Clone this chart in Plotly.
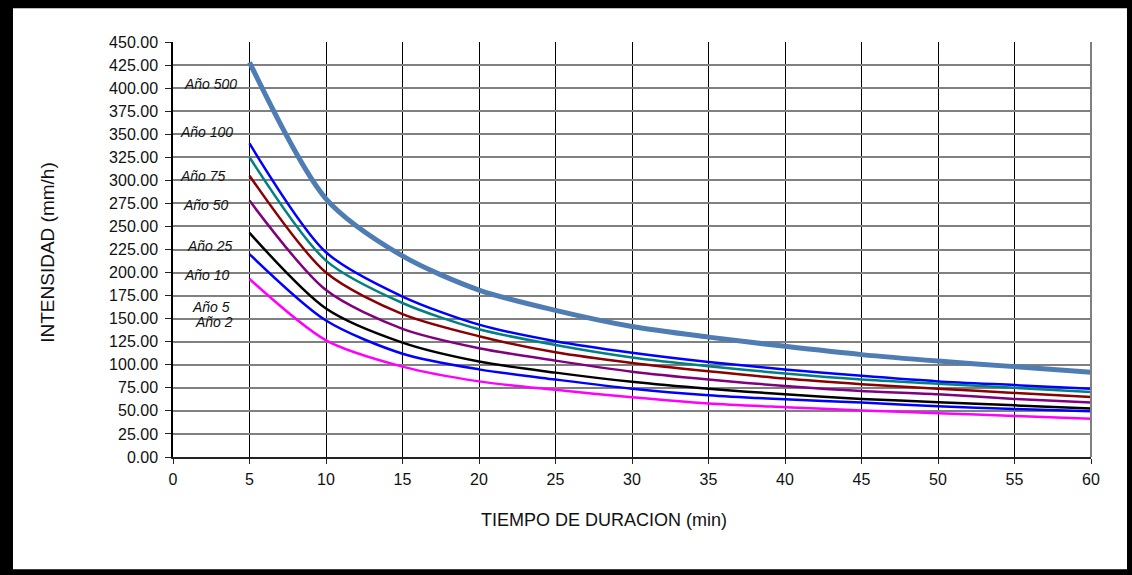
import plotly.graph_objects as go

# ---- data ----
tiempo = [5, 10, 15, 20, 25, 30, 35, 40, 45, 50, 55, 60]
a500 = [428, 280, 218, 181, 159, 141.5, 130, 120, 111, 104, 98, 92]
a100 = [340, 222, 174, 143.5, 125.5, 113, 103, 95, 88, 82, 78, 74]
a75 = [325, 213, 167, 138.5, 121.5, 108, 98.5, 90.5, 84, 79.5, 75, 70.5]
a50 = [305, 200, 155, 131, 113.5, 102, 93, 85, 79, 74, 69.5, 65]
a25 = [278, 181, 139, 118, 104.5, 92.5, 84, 77, 71.5, 68, 63, 59]
a10 = [243, 161, 124, 103.5, 91.5, 81.5, 74, 68, 63, 59.5, 56, 52.5]
a5 = [220, 148, 112, 95, 84, 74, 67, 62.5, 59, 55, 52, 49.5]
a2 = [193, 126.5, 98, 82, 72.8, 64.7, 58, 54, 50.5, 47.5, 44.5, 41.6]

series_names = ["Año 500", "Año 100", "Año 75", "Año 50", "Año 25", "Año 10", "Año 5", "Año 2"]
series_vals = [a500, a100, a75, a50, a25, a10, a5, a2]
colors = ["#4F7DB3", "#0000FF", "#008080", "#8B0000", "#800080", "#000000", "#0000FF", "#FF00FF"]
widths = [5, 2.5, 2.5, 2.5, 2.5, 2.5, 2.5, 2.5]

# label positions (data coords)
label_x = [2.48, 2.2, 1.98, 2.16, 2.42, 2.22, 2.48, 2.65]
label_y = [405, 352, 305, 273, 229, 197, 163, 146]

x_title = "TIEMPO DE DURACION (min)"
y_title = "INTENSIDAD (mm/h)"

SANS = "Liberation Sans, Arial, sans-serif"

fig = go.Figure()
for name, vals, c, w in zip(series_names, series_vals, colors, widths):
    fig.add_trace(go.Scatter(
        x=tiempo, y=vals, mode="lines", name=name,
        line=dict(color=c, width=w, shape="spline", smoothing=0.8),
        showlegend=False,
    ))

annotations = []
for name, lx, ly in zip(series_names, label_x, label_y):
    annotations.append(dict(
        x=lx, y=ly, xref="x", yref="y", text="<i>" + name + "</i>",
        showarrow=False, xanchor="center", yanchor="middle",
        font=dict(family=SANS, size=14, color="#111111"),
    ))
annotations.append(dict(
    x=0.4695, y=-0.1525, xref="paper", yref="paper", text=x_title,
    showarrow=False, xanchor="center", yanchor="middle",
    font=dict(family=SANS, size=18, color="#111111"),
))
annotations.append(dict(
    x=-0.1362, y=0.4945, xref="paper", yref="paper", text=y_title,
    showarrow=False, xanchor="center", yanchor="middle", textangle=-90,
    font=dict(family=SANS, size=19, color="#111111"),
))

shapes = [
    # right plot border (gray)
    dict(type="line", xref="paper", yref="paper", x0=1, x1=1, y0=0, y1=1,
         line=dict(color="#7F7F7F", width=2), layer="above"),
    # outer black frame
    dict(type="rect", xref="paper", yref="paper", x0=-0.2, x1=-0.1743, y0=-0.3, y1=1.11,
         fillcolor="black", line=dict(width=0), layer="above"),
    dict(type="rect", xref="paper", yref="paper", x0=-0.2, x1=1.06, y0=1.0812, y1=1.11,
         fillcolor="black", line=dict(width=0), layer="above"),
    dict(type="rect", xref="paper", yref="paper", x0=1.0392, x1=1.06, y0=-0.3, y1=1.11,
         fillcolor="black", line=dict(width=0), layer="above"),
    dict(type="rect", xref="paper", yref="paper", x0=-0.2, x1=1.06, y0=-0.3, y1=-0.2706,
         fillcolor="black", line=dict(width=0), layer="above"),
]

fig.update_layout(
    width=1132, height=575,
    margin=dict(l=173, r=41, t=42, b=118),
    paper_bgcolor="white", plot_bgcolor="white",
    annotations=annotations, shapes=shapes,
    font=dict(family=SANS, size=16, color="#111111"),
)
fig.update_xaxes(
    range=[0, 60], dtick=5, tick0=0,
    showgrid=True, gridcolor="#000000", gridwidth=1,
    showline=True, linecolor="#222222", linewidth=2,
    ticks="outside", ticklen=5, tickcolor="#222222",
    ticklabelstandoff=2, zeroline=False,
    tickfont=dict(family=SANS, size=16, color="#111111"),
)
fig.update_yaxes(
    range=[0, 450], dtick=25, tick0=0, tickformat=".2f",
    showgrid=True, gridcolor="#808080", gridwidth=2,
    showline=True, linecolor="#000000", linewidth=1.5,
    ticks="outside", ticklen=6, tickcolor="#222222",
    ticklabelstandoff=4, zeroline=False,
    tickfont=dict(family=SANS, size=16, color="#111111"),
)

fig.write_html(
    "out.html",
    config={"displayModeBar": False},
    post_script="document.body.style.margin='0';document.body.style.overflow='hidden';",
)
